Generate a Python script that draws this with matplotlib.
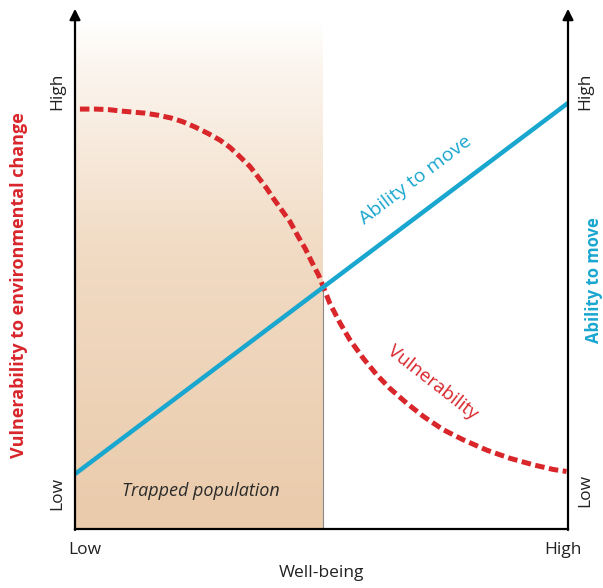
import numpy as np
import matplotlib
matplotlib.use('Agg')
import matplotlib.pyplot as plt
from matplotlib.colors import LinearSegmentedColormap

plt.rcParams['font.family'] = ['Open Sans', 'DejaVu Sans']

# well-being (0 = low, 1 = high)
vuln_x = [0.010, 0.041, 0.067, 0.095, 0.118, 0.142, 0.168, 0.197, 0.219, 0.243,
          0.270, 0.294, 0.314, 0.335, 0.355, 0.371, 0.389, 0.402, 0.419, 0.436,
          0.453, 0.467, 0.480, 0.494, 0.504, 0.517, 0.538, 0.558, 0.585, 0.612,
          0.639, 0.673, 0.707, 0.747, 0.788, 0.835, 0.882, 0.930, 0.970, 0.997]
vuln_y = [0.825, 0.825, 0.824, 0.821, 0.819, 0.817, 0.813, 0.807, 0.800, 0.790,
          0.777, 0.764, 0.750, 0.731, 0.712, 0.692, 0.669, 0.650, 0.627, 0.604,
          0.574, 0.551, 0.525, 0.499, 0.475, 0.443, 0.404, 0.371, 0.335, 0.303,
          0.276, 0.247, 0.221, 0.195, 0.175, 0.155, 0.139, 0.126, 0.117, 0.113]
move_x = [0.0, 1.0]
move_y = [0.108, 0.837]
trap_edge = 0.503

red = '#d8262b'
blue = '#19a6cf'

fig = plt.figure(figsize=(6.03, 5.88), dpi=100)
ax = fig.add_axes([75/603, 59/588, 493/603, 509/588])
ax.set_xlim(0, 1)
ax.set_ylim(0, 1)
ax.axis('off')

# shaded "trapped population" area, fading to white at top
cmap = LinearSegmentedColormap.from_list('tan', [(0, '#eacbab'), (0.55, '#f1dbc4'), (0.92, '#fcf6f0'), (1, '#ffffff')])
grad = np.linspace(0, 1, 256).reshape(-1, 1)
ax.imshow(grad, cmap=cmap, origin='lower', aspect='auto', extent=[0, trap_edge, 0, 1], zorder=0)
ax.plot([trap_edge, trap_edge], [0, np.interp(trap_edge, move_x, move_y)], color='#8a8a8a', lw=0.8, zorder=1)

ax.plot(move_x, move_y, color=blue, lw=3.2, solid_capstyle='butt', zorder=3)
ax.plot(vuln_x, vuln_y, color=red, lw=3.6, dashes=(1.9, 0.9), zorder=2)

# axes frame with arrows
ax.plot([0, 1], [0, 0], color='black', lw=1.6, clip_on=False, zorder=4)
for xa in (0, 1):
    ax.annotate('', xy=(xa, 1.022), xytext=(xa, -0.002), xycoords='data',
                arrowprops=dict(arrowstyle='-|>', color='black', lw=1.6, mutation_scale=16, shrinkA=0, shrinkB=0),
                annotation_clip=False, zorder=4)

fs = 12.5
ax.text(-0.037, 0.86, 'High', rotation=90, ha='center', va='center', fontsize=fs, color='#222222')
ax.text(-0.037, 0.07, 'Low', rotation=90, ha='center', va='center', fontsize=fs, color='#222222')
ax.text(1.035, 0.86, 'High', rotation=90, ha='center', va='center', fontsize=fs, color='#222222')
ax.text(1.035, 0.075, 'Low', rotation=90, ha='center', va='center', fontsize=fs, color='#222222')
ax.text(0.02, -0.041, 'Low', ha='center', va='center', fontsize=fs, color='#222222')
ax.text(0.99, -0.041, 'High', ha='center', va='center', fontsize=fs, color='#222222')
ax.text(0.50, -0.087, 'Well-being', ha='center', va='center', fontsize=fs, color='#222222')

ax.text(-0.114, 0.48, 'Vulnerability to environmental change', rotation=90, ha='center', va='center',
        fontsize=13, fontweight='bold', color=red)
ax.text(1.052, 0.49, 'Ability to move', rotation=90, ha='center', va='center',
        fontsize=12, fontweight='bold', color=blue)

ax.text(0.69, 0.685, 'Ability to move', rotation=37, ha='center', va='center', fontsize=14, color=blue)
ax.text(0.725, 0.288, 'Vulnerability', rotation=-38, ha='center', va='center', fontsize=13.5, color=red)
ax.text(0.255, 0.075, 'Trapped population', ha='center', va='center', fontsize=13, style='italic', color='#2a2a2a')

fig.savefig('out.png', dpi=100)
